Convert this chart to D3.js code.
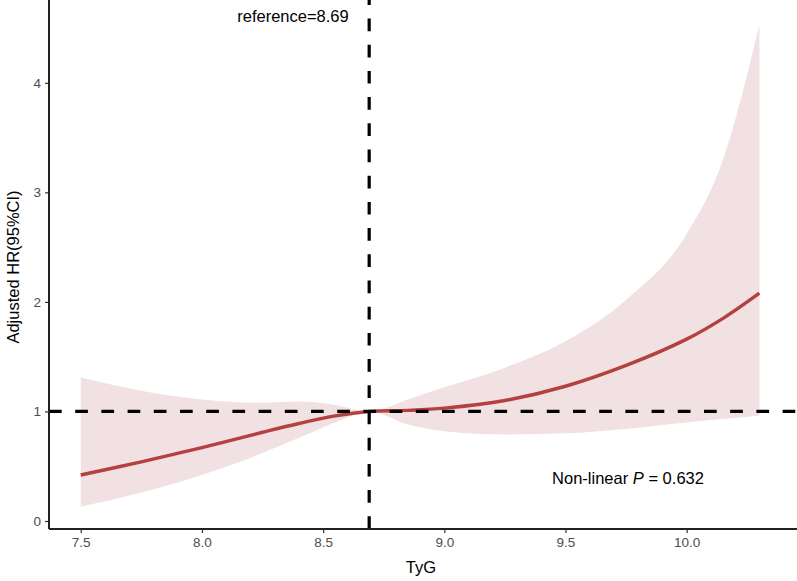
<!DOCTYPE html>
<html>
<head>
<meta charset="utf-8">
<script src="https://cdn.jsdelivr.net/npm/d3@7"></script>
<style>
  body { margin: 0; background: #fff; }
  svg { display: block; font-family: "Liberation Sans", Arial, sans-serif; }
</style>
</head>
<body>
<svg width="797" height="581"></svg>
<script>
// spline fit
var tyg   = [7.5, 7.75, 8.0, 8.25, 8.4, 8.55, 8.69, 8.85, 9.0, 9.25, 9.5, 9.75, 10.0, 10.15, 10.3];
var hr    = [0.42, 0.54, 0.67, 0.81, 0.89, 0.96, 1.0, 1.01, 1.03, 1.10, 1.23, 1.42, 1.66, 1.85, 2.08];
var upper = [1.31, 1.19, 1.11, 1.08, 1.09, 1.06, 1.0, 1.11, 1.22, 1.40, 1.64, 2.02, 2.62, 3.30, 4.53];
var lower = [0.13, 0.26, 0.42, 0.62, 0.76, 0.90, 1.0, 0.88, 0.82, 0.79, 0.80, 0.84, 0.90, 0.93, 0.96];
var xTicks = [7.5, 8.0, 8.5, 9.0, 9.5, 10.0];
var yTicks = [0, 1, 2, 3, 4];
var refValue = 8.69;
var refHR = 1;

var rows = tyg.map(function(d, i) {
  return { x: d, y: hr[i], lo: lower[i], hi: upper[i] };
});

var svg = d3.select("svg");
var pLeft = 49, pRight = 796, pTop = 5, pBottom = 529;

var x = d3.scaleLinear().domain([7.369, 10.451]).range([pLeft, pRight]);
var y = d3.scaleLinear().domain([-0.073, 4.71]).range([pBottom, pTop]);

var area = d3.area()
    .x(function(d) { return x(d.x); })
    .y0(function(d) { return y(d.lo); })
    .y1(function(d) { return y(d.hi); })
    .curve(d3.curveMonotoneX);

var line = d3.line()
    .x(function(d) { return x(d.x); })
    .y(function(d) { return y(d.y); })
    .curve(d3.curveCatmullRom);

svg.append("path")
    .datum(rows)
    .attr("d", area)
    .attr("fill", "#f2e1e2");

svg.append("path")
    .datum(rows)
    .attr("d", line)
    .attr("fill", "none")
    .attr("stroke", "#b4403f")
    .attr("stroke-width", 3.4);

// reference lines
svg.append("line")
    .attr("x1", pLeft).attr("x2", 797)
    .attr("y1", y(refHR)).attr("y2", y(refHR))
    .attr("stroke", "#000").attr("stroke-width", 3.2)
    .attr("stroke-dasharray", "12.7,13.5");

svg.append("line")
    .attr("x1", x(refValue)).attr("x2", x(refValue))
    .attr("y1", pBottom).attr("y2", 0)
    .attr("stroke", "#000").attr("stroke-width", 3.2)
    .attr("stroke-dasharray", "12.7,13.5");

// axes
var xAxis = svg.append("g")
    .attr("transform", "translate(0," + pBottom + ")")
    .call(d3.axisBottom(x).tickValues(xTicks).tickFormat(d3.format(".1f")).tickSize(4).tickPadding(4));
var yAxis = svg.append("g")
    .attr("transform", "translate(" + pLeft + ",0)")
    .call(d3.axisLeft(y).tickValues(yTicks).tickFormat(d3.format("d")).tickSize(4).tickPadding(4));

[xAxis, yAxis].forEach(function(g) {
  g.select(".domain").attr("stroke", "#222").attr("stroke-width", 2);
  g.selectAll(".tick line").attr("stroke", "#333").attr("stroke-width", 1.2);
  g.selectAll(".tick text").attr("fill", "#4d4d4d")
    .style("font-size", "13.5px").style("font-family", "Liberation Sans, Arial, sans-serif");
});
xAxis.select(".domain").attr("d", "M" + pLeft + ",0H797");
yAxis.select(".domain").attr("d", "M0," + pBottom + "V0");

// titles
svg.append("text")
    .attr("x", 421).attr("y", 573)
    .attr("text-anchor", "middle")
    .style("font-size", "16.5px")
    .text("TyG");

svg.append("text")
    .attr("transform", "translate(19," + ((pTop + pBottom) / 2) + ") rotate(-90)")
    .attr("text-anchor", "middle")
    .style("font-size", "16.5px")
    .text("Adjusted HR(95%CI)");

svg.append("text")
    .attr("x", 293).attr("y", 22)
    .attr("text-anchor", "middle")
    .style("font-size", "16.5px")
    .text("reference=" + refValue);

var pt = svg.append("text")
    .attr("x", 628).attr("y", 484)
    .attr("text-anchor", "middle")
    .style("font-size", "16.5px");
pt.append("tspan").text("Non-linear ");
pt.append("tspan").style("font-style", "italic").text("P");
pt.append("tspan").text(" = 0.632");
</script>
</body>
</html>
